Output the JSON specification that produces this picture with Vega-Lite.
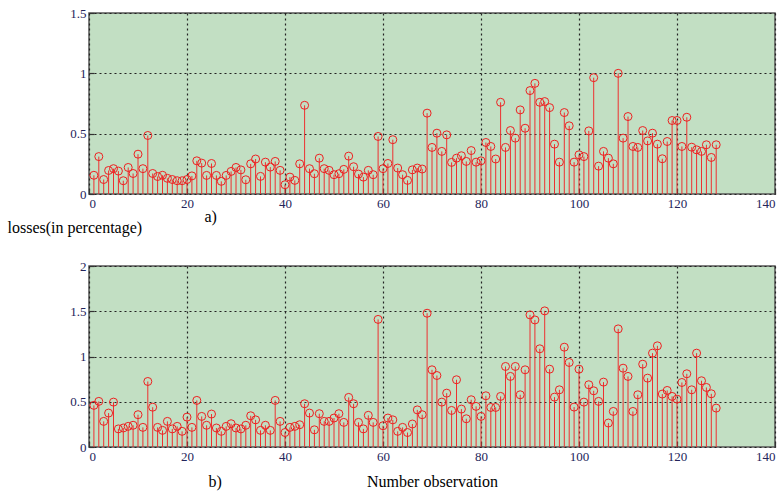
{
"$schema": "https://vega.github.io/schema/vega-lite/v6.json",
"padding": {"left": 6, "top": 6, "right": 5, "bottom": 5},
"background": "white",
"bounds": "flush",
"spacing": 72,
"config": {
  "view": {"fill": "#c2dfc3", "stroke": "#555555", "strokeWidth": 1.5},
  "axis": {
    "labelFont": "Liberation Sans Narrow", "labelFontSize": 13, "labelColor": "#24245a",
    "grid": true, "gridColor": "#222222", "gridDash": [2, 3], "gridWidth": 1.2, "gridOpacity": 1,
    "domain": false, "tickColor": "#333333", "tickSize": -5, "tickWidth": 1.2,
    "labelPadding": 8,
    "titleFont": "Liberation Serif", "titleFontWeight": "normal", "titleFontSize": 16, "titleColor": "#000000"
  }
},
"datasets": {
"a": [
{"obs":1,"loss":0.155},{"obs":2,"loss":0.31},{"obs":3,"loss":0.12},{"obs":4,"loss":0.195},{"obs":5,"loss":0.21},{"obs":6,"loss":0.19},{"obs":7,"loss":0.11},{"obs":8,"loss":0.22},{"obs":9,"loss":0.17},{"obs":10,"loss":0.33},
{"obs":11,"loss":0.21},{"obs":12,"loss":0.485},{"obs":13,"loss":0.17},{"obs":14,"loss":0.145},{"obs":15,"loss":0.155},{"obs":16,"loss":0.13},{"obs":17,"loss":0.12},{"obs":18,"loss":0.11},{"obs":19,"loss":0.11},{"obs":20,"loss":0.12},
{"obs":21,"loss":0.15},{"obs":22,"loss":0.275},{"obs":23,"loss":0.256},{"obs":24,"loss":0.154},{"obs":25,"loss":0.253},{"obs":26,"loss":0.154},{"obs":27,"loss":0.105},{"obs":28,"loss":0.154},{"obs":29,"loss":0.187},{"obs":30,"loss":0.22},
{"obs":31,"loss":0.2},{"obs":32,"loss":0.118},{"obs":33,"loss":0.25},{"obs":34,"loss":0.29},{"obs":35,"loss":0.146},{"obs":36,"loss":0.264},{"obs":37,"loss":0.223},{"obs":38,"loss":0.27},{"obs":39,"loss":0.196},{"obs":40,"loss":0.077},
{"obs":41,"loss":0.14},{"obs":42,"loss":0.113},{"obs":43,"loss":0.25},{"obs":44,"loss":0.735},{"obs":45,"loss":0.21},{"obs":46,"loss":0.168},{"obs":47,"loss":0.297},{"obs":48,"loss":0.21},{"obs":49,"loss":0.196},{"obs":50,"loss":0.16},
{"obs":51,"loss":0.168},{"obs":52,"loss":0.204},{"obs":53,"loss":0.314},{"obs":54,"loss":0.226},{"obs":55,"loss":0.165},{"obs":56,"loss":0.14},{"obs":57,"loss":0.196},{"obs":58,"loss":0.16},{"obs":59,"loss":0.477},{"obs":60,"loss":0.21},
{"obs":61,"loss":0.253},{"obs":62,"loss":0.45},{"obs":63,"loss":0.215},{"obs":64,"loss":0.16},{"obs":65,"loss":0.113},{"obs":66,"loss":0.2},{"obs":67,"loss":0.215},{"obs":68,"loss":0.207},{"obs":69,"loss":0.67},{"obs":70,"loss":0.386},
{"obs":71,"loss":0.504},{"obs":72,"loss":0.353},{"obs":73,"loss":0.49},{"obs":74,"loss":0.262},{"obs":75,"loss":0.297},{"obs":76,"loss":0.317},{"obs":77,"loss":0.27},{"obs":78,"loss":0.36},{"obs":79,"loss":0.264},{"obs":80,"loss":0.275},
{"obs":81,"loss":0.427},{"obs":82,"loss":0.394},{"obs":83,"loss":0.29},{"obs":84,"loss":0.76},{"obs":85,"loss":0.386},{"obs":86,"loss":0.526},{"obs":87,"loss":0.463},{"obs":88,"loss":0.697},{"obs":89,"loss":0.545},{"obs":90,"loss":0.857},
{"obs":91,"loss":0.917},{"obs":92,"loss":0.76},{"obs":93,"loss":0.766},{"obs":94,"loss":0.716},{"obs":95,"loss":0.413},{"obs":96,"loss":0.264},{"obs":97,"loss":0.675},{"obs":98,"loss":0.565},{"obs":99,"loss":0.264},{"obs":100,"loss":0.325},
{"obs":101,"loss":0.31},{"obs":102,"loss":0.523},{"obs":103,"loss":0.964},{"obs":104,"loss":0.231},{"obs":105,"loss":0.353},{"obs":106,"loss":0.297},{"obs":107,"loss":0.25},{"obs":108,"loss":1.0},{"obs":109,"loss":0.463},{"obs":110,"loss":0.642},
{"obs":111,"loss":0.394},{"obs":112,"loss":0.386},{"obs":113,"loss":0.526},{"obs":114,"loss":0.44},{"obs":115,"loss":0.504},{"obs":116,"loss":0.413},{"obs":117,"loss":0.292},{"obs":118,"loss":0.435},{"obs":119,"loss":0.609},{"obs":120,"loss":0.609},
{"obs":121,"loss":0.394},{"obs":122,"loss":0.636},{"obs":123,"loss":0.388},{"obs":124,"loss":0.366},{"obs":125,"loss":0.353},{"obs":126,"loss":0.408},{"obs":127,"loss":0.303},{"obs":128,"loss":0.408}
],
"b": [
{"obs":1,"loss":0.46},{"obs":2,"loss":0.504},{"obs":3,"loss":0.283},{"obs":4,"loss":0.375},{"obs":5,"loss":0.496},{"obs":6,"loss":0.2},{"obs":7,"loss":0.21},{"obs":8,"loss":0.228},{"obs":9,"loss":0.24},{"obs":10,"loss":0.357},
{"obs":11,"loss":0.217},{"obs":12,"loss":0.724},{"obs":13,"loss":0.44},{"obs":14,"loss":0.217},{"obs":15,"loss":0.184},{"obs":16,"loss":0.283},{"obs":17,"loss":0.2},{"obs":18,"loss":0.228},{"obs":19,"loss":0.173},{"obs":20,"loss":0.33},
{"obs":21,"loss":0.217},{"obs":22,"loss":0.515},{"obs":23,"loss":0.338},{"obs":24,"loss":0.24},{"obs":25,"loss":0.364},{"obs":26,"loss":0.21},{"obs":27,"loss":0.173},{"obs":28,"loss":0.228},{"obs":29,"loss":0.257},{"obs":30,"loss":0.21},
{"obs":31,"loss":0.2},{"obs":32,"loss":0.24},{"obs":33,"loss":0.345},{"obs":34,"loss":0.3},{"obs":35,"loss":0.184},{"obs":36,"loss":0.24},{"obs":37,"loss":0.184},{"obs":38,"loss":0.515},{"obs":39,"loss":0.283},{"obs":40,"loss":0.16},
{"obs":41,"loss":0.217},{"obs":42,"loss":0.228},{"obs":43,"loss":0.246},{"obs":44,"loss":0.478},{"obs":45,"loss":0.375},{"obs":46,"loss":0.19},{"obs":47,"loss":0.368},{"obs":48,"loss":0.283},{"obs":49,"loss":0.283},{"obs":50,"loss":0.32},
{"obs":51,"loss":0.368},{"obs":52,"loss":0.272},{"obs":53,"loss":0.548},{"obs":54,"loss":0.478},{"obs":55,"loss":0.272},{"obs":56,"loss":0.2},{"obs":57,"loss":0.35},{"obs":58,"loss":0.272},{"obs":59,"loss":1.41},{"obs":60,"loss":0.235},
{"obs":61,"loss":0.32},{"obs":62,"loss":0.3},{"obs":63,"loss":0.173},{"obs":64,"loss":0.217},{"obs":65,"loss":0.16},{"obs":66,"loss":0.254},{"obs":67,"loss":0.41},{"obs":68,"loss":0.357},{"obs":69,"loss":1.478},{"obs":70,"loss":0.853},
{"obs":71,"loss":0.79},{"obs":72,"loss":0.496},{"obs":73,"loss":0.595},{"obs":74,"loss":0.404},{"obs":75,"loss":0.743},{"obs":76,"loss":0.419},{"obs":77,"loss":0.312},{"obs":78,"loss":0.522},{"obs":79,"loss":0.449},{"obs":80,"loss":0.338},
{"obs":81,"loss":0.566},{"obs":82,"loss":0.437},{"obs":83,"loss":0.437},{"obs":84,"loss":0.559},{"obs":85,"loss":0.89},{"obs":86,"loss":0.78},{"obs":87,"loss":0.89},{"obs":88,"loss":0.577},{"obs":89,"loss":0.853},{"obs":90,"loss":1.46},
{"obs":91,"loss":1.404},{"obs":92,"loss":1.085},{"obs":93,"loss":1.504},{"obs":94,"loss":0.86},{"obs":95,"loss":0.551},{"obs":96,"loss":0.632},{"obs":97,"loss":1.103},{"obs":98,"loss":0.934},{"obs":99,"loss":0.441},{"obs":100,"loss":0.86},
{"obs":101,"loss":0.496},{"obs":102,"loss":0.688},{"obs":103,"loss":0.621},{"obs":104,"loss":0.504},{"obs":105,"loss":0.717},{"obs":106,"loss":0.265},{"obs":107,"loss":0.393},{"obs":108,"loss":1.305},{"obs":109,"loss":0.871},{"obs":110,"loss":0.78},
{"obs":111,"loss":0.393},{"obs":112,"loss":0.577},{"obs":113,"loss":0.915},{"obs":114,"loss":0.761},{"obs":115,"loss":1.037},{"obs":116,"loss":1.118},{"obs":117,"loss":0.585},{"obs":118,"loss":0.625},{"obs":119,"loss":0.559},{"obs":120,"loss":0.529},
{"obs":121,"loss":0.713},{"obs":122,"loss":0.809},{"obs":123,"loss":0.632},{"obs":124,"loss":1.037},{"obs":125,"loss":0.732},{"obs":126,"loss":0.658},{"obs":127,"loss":0.588},{"obs":128,"loss":0.43}
]
},
"vconcat": [
{
  "width": 686, "height": 181,
  "data": {"name": "a"},
  "encoding": {
    "x": {"field": "obs", "type": "quantitative", "scale": {"domain": [0, 140], "nice": false},
      "axis": {"values": [0,20,40,60,80,100,120,140], "title": "a)", "titleX": 115, "titleY": 27, "titleAlign": "left", "titleBaseline": "alphabetic", "titleAnchor": null}},
    "y": {"field": "loss", "type": "quantitative", "scale": {"domain": [0, 1.5], "nice": false},
      "axis": {"values": [0, 0.5, 1, 1.5], "format": "~g", "title": "losses(in percentage)", "titleAngle": 0, "titleX": -82, "titleY": 219, "titleAlign": "left", "titleBaseline": "alphabetic", "titleAnchor": null}}
  },
  "layer": [
    {"mark": {"type": "rule", "color": "#ee3030", "strokeWidth": 1}, "encoding": {"y2": {"datum": 0}}},
    {"mark": {"type": "point", "shape": "circle", "filled": false, "size": 64, "stroke": "#ee2020", "strokeWidth": 1, "opacity": 1}}
  ]
},
{
  "width": 686, "height": 181,
  "data": {"name": "b"},
  "encoding": {
    "x": {"field": "obs", "type": "quantitative", "scale": {"domain": [0, 140], "nice": false},
      "axis": {"values": [0,20,40,60,80,100,120,140], "title": "Number observation", "titleY": 39, "titleBaseline": "alphabetic"}},
    "y": {"field": "loss", "type": "quantitative", "scale": {"domain": [0, 2], "nice": false},
      "axis": {"values": [0, 0.5, 1, 1.5, 2], "format": "~g", "title": "b)", "titleAngle": 0, "titleX": 119, "titleY": 220, "titleAlign": "left", "titleBaseline": "alphabetic", "titleAnchor": null}}
  },
  "layer": [
    {"mark": {"type": "rule", "color": "#ee3030", "strokeWidth": 1}, "encoding": {"y2": {"datum": 0}}},
    {"mark": {"type": "point", "shape": "circle", "filled": false, "size": 64, "stroke": "#ee2020", "strokeWidth": 1, "opacity": 1}}
  ]
}
]
}
